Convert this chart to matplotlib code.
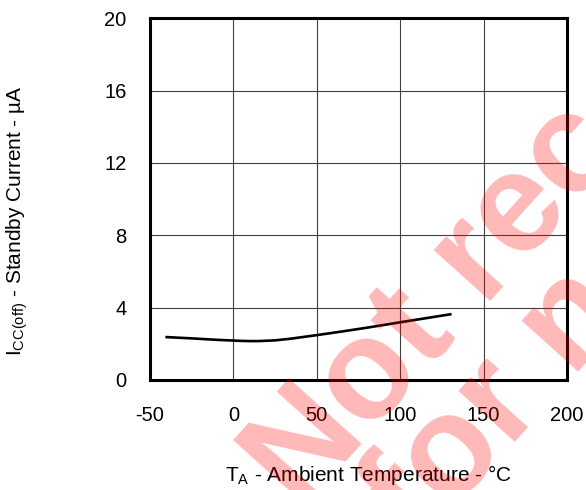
import matplotlib
matplotlib.use("Agg")
import matplotlib.pyplot as plt

plt.rcParams['font.family'] = ['Liberation Sans', 'DejaVu Sans']
plt.rcParams['mathtext.fontset'] = 'custom'
plt.rcParams['mathtext.rm'] = 'Liberation Sans'
plt.rcParams['axes.unicode_minus'] = False

# standby current vs ambient temperature
temp_c = [-40, -25, -10, 0, 5, 10, 15, 25, 35, 50, 65, 80, 100, 115, 130]
icc_off_ua = [2.37, 2.30, 2.22, 2.18, 2.16, 2.15, 2.15, 2.19, 2.29, 2.48, 2.68, 2.89, 3.19, 3.41, 3.63]

x_ticks = [-50, 0, 50, 100, 150, 200]
y_ticks = [0, 4, 8, 12, 16, 20]

fig = plt.figure(figsize=(5.86, 4.9), dpi=100)
ax = fig.add_axes([0.256, 0.2245, 0.7116, 0.7385])

ax.plot(temp_c, icc_off_ua, color='black', lw=1.9)

ax.set_xlim(-50, 200)
ax.set_ylim(0, 20)
ax.set_xticks(x_ticks)
ax.set_yticks(y_ticks)
ax.tick_params(length=0, labelsize=14.5)
ax.tick_params(axis='x', pad=19)
ax.tick_params(axis='y', pad=17)
ax.grid(True, color='#404040', lw=0.8)
for s in ax.spines.values():
    s.set_linewidth(2.2)

ax.set_xlabel(r'$\mathregular{T_A}$ - Ambient Temperature - °C', fontsize=15, va='center')
ax.set_ylabel(r'$\mathregular{I_{CC(off)}}$ - Standby Current - µA', fontsize=15, va='center')
ax.xaxis.set_label_coords(0.523, -0.262)
ax.yaxis.set_label_coords(-0.319, 0.439)

# "not recommended" watermark on top
wm = dict(fontsize=102, fontweight='bold', color='red', alpha=0.28,
          rotation=48, rotation_mode='anchor', ha='left', va='baseline')
fig.text(0.512, -0.045, 'Not recommended', **wm)
fig.text(0.717, -0.118, 'for new designs', **wm)

fig.savefig('out.png', dpi=100)
